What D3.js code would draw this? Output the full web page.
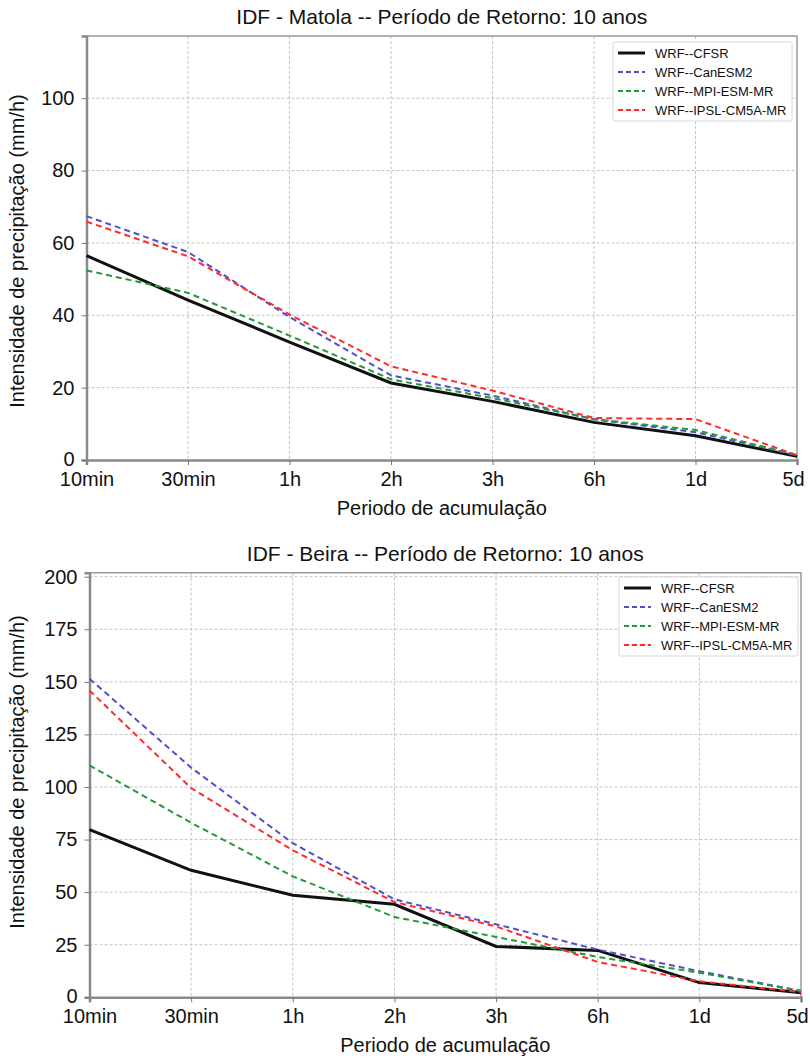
<!DOCTYPE html>
<html>
<head>
<meta charset="utf-8">
<script src="https://cdn.jsdelivr.net/npm/d3@7"></script>
<style>
  body { margin: 0; background: #fff; }
  svg { display: block; font-family: "Liberation Sans", Arial, sans-serif; }
</style>
</head>
<body>
<svg id="chart" width="810" height="1063"></svg>
<script>
// categories
const periods = ["10min", "30min", "1h", "2h", "3h", "6h", "1d", "5d"];
const seriesNames = ["WRF--CFSR", "WRF--CanESM2", "WRF--MPI-ESM-MR", "WRF--IPSL-CM5A-MR"];

// Matola
const matolaCFSR    = [56.5, 44.2, 32.6, 21.3, 16.2, 10.4, 6.7, 1.0];
const matolaCanESM2 = [67.4, 57.5, 39.5, 23.4, 17.8, 11.2, 7.7, 1.3];
const matolaMPI     = [52.4, 46.2, 34.4, 22.3, 17.1, 11.3, 8.3, 1.4];
const matolaIPSL    = [65.9, 56.3, 40.2, 25.9, 19.2, 11.6, 11.3, 1.3];
const matolaTicks = [0, 20, 40, 60, 80, 100];

// Beira
const beiraCFSR    = [79.7, 60.4, 48.5, 44.2, 24.2, 22.3, 7.0, 2.2];
const beiraCanESM2 = [151.5, 109.2, 73.3, 46.6, 34.7, 22.7, 12.4, 3.0];
const beiraMPI     = [110.3, 83.0, 57.5, 38.2, 28.7, 19.2, 11.7, 3.0];
const beiraIPSL    = [145.9, 99.5, 69.9, 45.3, 33.7, 16.8, 7.6, 2.5];
const beiraTicks = [0, 25, 50, 75, 100, 125, 150, 175, 200];

const styles = [
  { color: "#111111", width: 3, dash: null },
  { color: "#5050c8", width: 2, dash: "6,4" },
  { color: "#23993a", width: 2, dash: "6,4" },
  { color: "#ff2b2b", width: 2, dash: "6,4" }
];

const svg = d3.select("#chart");

function drawChart(cfg) {
  const g = svg.append("g");
  const x = d3.scalePoint()
    .domain(periods)
    .range([cfg.left, cfg.right]);
  const y = d3.scaleLinear()
    .domain([0, cfg.yMax])
    .range([cfg.bottom, cfg.top]);

  // grid
  g.append("g")
    .selectAll("line")
    .data(cfg.ticks.filter(t => t > 0))
    .enter()
    .append("line")
    .attr("x1", cfg.left).attr("x2", cfg.right)
    .attr("y1", d => y(d)).attr("y2", d => y(d))
    .attr("stroke", "#c4c4c4")
    .attr("stroke-dasharray", "3,2");
  g.append("g")
    .selectAll("line")
    .data(periods.slice(1, -1))
    .enter()
    .append("line")
    .attr("x1", d => x(d)).attr("x2", d => x(d))
    .attr("y1", cfg.top).attr("y2", cfg.bottom)
    .attr("stroke", "#c4c4c4")
    .attr("stroke-dasharray", "3,2");

  // frame top/right
  g.append("path")
    .attr("d", `M${cfg.left},${cfg.top}H${cfg.right}V${cfg.bottom}`)
    .attr("fill", "none")
    .attr("stroke", "#9a9a9a")
    .attr("stroke-width", 1.5);

  // axes
  const xAxis = g.append("g")
    .attr("transform", `translate(0, ${cfg.bottom})`)
    .call(d3.axisBottom(x).tickSize(5).tickPadding(7));
  xAxis.select(".domain").attr("stroke", "#8a8a8a").attr("stroke-width", 2.5);
  xAxis.selectAll("line").attr("stroke", "#777");
  xAxis.selectAll("text")
    .style("font-size", "20px")
    .attr("fill", "#111")
    .attr("dy", "0.68em")
    .attr("dx", d => d === "5d" ? -4 : 0);

  const yAxis = g.append("g")
    .attr("transform", `translate(${cfg.left}, 0)`)
    .call(d3.axisLeft(y).tickValues(cfg.ticks).tickSize(5).tickPadding(7));
  yAxis.select(".domain").attr("stroke", "#8a8a8a").attr("stroke-width", 2.5);
  yAxis.selectAll("line").attr("stroke", "#777");
  yAxis.selectAll("text")
    .style("font-size", "20px")
    .attr("fill", "#111")
    .attr("dy", d => d === 0 ? "0.25em" : "0.32em");

  // lines
  const line = d3.line()
    .x((d, i) => x(periods[i]))
    .y(d => y(d));
  cfg.series.forEach((s, i) => {
    g.append("path")
      .datum(s)
      .attr("d", line)
      .attr("fill", "none")
      .attr("stroke", styles[i].color)
      .attr("stroke-width", styles[i].width)
      .attr("stroke-dasharray", styles[i].dash);
  });

  // title and labels
  g.append("text")
    .attr("x", (cfg.left + cfg.right) / 2)
    .attr("y", cfg.top - 12)
    .attr("text-anchor", "middle")
    .style("font-size", "21px")
    .attr("fill", "#111")
    .text(cfg.title);
  g.append("text")
    .attr("x", (cfg.left + cfg.right) / 2)
    .attr("y", cfg.bottom + 55)
    .attr("text-anchor", "middle")
    .style("font-size", "20px")
    .attr("fill", "#111")
    .text("Periodo de acumulação");
  g.append("text")
    .attr("transform", `translate(24, ${cfg.yLabelY}) rotate(-90)`)
    .attr("text-anchor", "middle")
    .style("font-size", "20px")
    .attr("fill", "#111")
    .text("Intensidade de precipitação (mm/h)");

  // legend
  const lg = g.append("g")
    .attr("transform", `translate(${cfg.legendX}, ${cfg.legendY})`);
  lg.append("rect")
    .attr("width", 179).attr("height", 79)
    .attr("rx", 2)
    .attr("fill", "#fff")
    .attr("stroke", "#d8d8d8");
  seriesNames.forEach((name, i) => {
    const ly = 11 + i * 19;
    lg.append("line")
      .attr("x1", 5).attr("x2", 32)
      .attr("y1", ly).attr("y2", ly)
      .attr("stroke", styles[i].color)
      .attr("stroke-width", styles[i].width)
      .attr("stroke-dasharray", i === 0 ? null : "5,3");
    lg.append("text")
      .attr("x", 42).attr("y", ly)
      .attr("dy", "0.35em")
      .style("font-size", "13px")
      .attr("fill", "#111")
      .text(name);
  });
}

drawChart({
  title: "IDF - Matola -- Período de Retorno: 10 anos",
  series: [matolaCFSR, matolaCanESM2, matolaMPI, matolaIPSL],
  ticks: matolaTicks,
  yMax: 117.2,
  left: 86.5, right: 797, top: 36, bottom: 460,
  yLabelY: 251,
  legendX: 613, legendY: 42
});

drawChart({
  title: "IDF - Beira -- Período de Retorno: 10 anos",
  series: [beiraCFSR, beiraCanESM2, beiraMPI, beiraIPSL],
  ticks: beiraTicks,
  yMax: 201.9,
  left: 89.5, right: 801, top: 572.7, bottom: 997.3,
  yLabelY: 772,
  legendX: 619, legendY: 577
});
</script>
</body>
</html>
